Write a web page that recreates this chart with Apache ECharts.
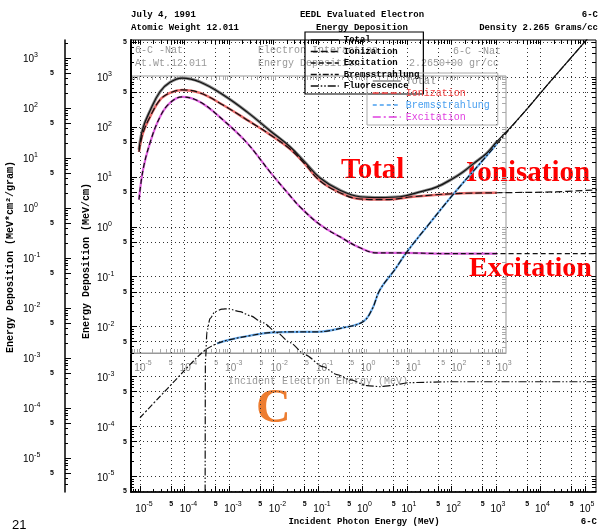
<!DOCTYPE html>
<html><head><meta charset="utf-8">
<script src="https://cdn.jsdelivr.net/npm/echarts@6/dist/echarts.min.js"></script>
<style>html,body{margin:0;padding:0;background:#fff}#c{width:605px;height:531px}</style>
</head><body><div id="c"></div>
<script>
// ---- tick label decades ----
const photonDecades = [-5,-4,-3,-2,-1,0,1,2,3,4,5];
const electronDecades = [-5,-4,-3,-2,-1,0,1,2,3];
const depDecadesCm = [3,2,1,0,-1,-2,-3,-4,-5];
const depDecadesGram = [3,2,1,0,-1,-2,-3,-4,-5];
const blackLegend = ['Total','Ionization','Excitation','Bremsstrahlung','Fluorescence'];
const colourLegend = ['Total','Ionization','Bremsstrahlung','Excitation'];

// ---- curves (energy MeV, deposition) ----
const totalE = [9.5e-6,1.17e-5,1.68e-5,2.81e-5,4.72e-5,8.8e-5,2.23e-4,7.33e-4,2.54e-3,8.34e-3,2.35e-2,5.11e-2,0.111,0.312,0.879,2.47,6.97,19.6,47.2,108,181,337,628,1052,2065,5807,1.63e4,4.6e4,1.29e5,2.17e5];
const totalD = [35,95,210,505,780,950,795,440,200,84,40,19.5,9.5,5.4,4.0,3.85,4.0,5.0,6.3,9.3,12.5,19.4,30,51,96,268,800,2300,6600,11000];
const ionE = [9.5e-6,1.17e-5,1.68e-5,2.81e-5,4.72e-5,8.8e-5,2.23e-4,7.33e-4,2.54e-3,8.34e-3,2.35e-2,5.11e-2,0.111,0.312,0.879,3.56,13.6,108,1052,1.91e4,1.86e5];
const ionD = [31.6,76,158,347,479,550,479,275,138,70,36,18,8.3,4.8,3.6,3.5,4.0,4.6,4.8,5.0,5.5];
const excE = [9.5e-6,1.17e-5,1.68e-5,2.81e-5,4.72e-5,8.8e-5,2.23e-4,7.33e-4,2.54e-3,8.34e-3,2.35e-2,3.95e-2,0.111,0.312,0.879,2.12,8.13,92.5,1052,1.86e5];
const excD = [3.5,13.8,47.9,158,302,398,316,138,47.9,12.6,4.2,2.5,1.1,0.63,0.38,0.30,0.30,0.29,0.29,0.29];
const bremE = [1e-5,2.81e-5,6.1e-5,1.33e-4,2.81e-4,5.37e-4,1.05e-3,2.96e-3,8.34e-3,3.95e-2,9.5e-2,0.365,1.03,1.63,2.47,5.37,10,32.9,108,374,1052,3463,1.63e4,4.6e4,1.29e5,2.17e5];
const bremD = [1.5e-4,4.0e-4,8.3e-4,1.74e-3,3.3e-3,4.6e-3,5.5e-3,6.6e-3,7.6e-3,7.9e-3,7.9e-3,9.5e-3,1.26e-2,2.2e-2,5.5e-2,0.14,0.316,1.2,4.4,15.8,45.7,158,794,2290,6600,11000];
const fluorE = [2.9e-4,2.95e-4,3.2e-4,3.74e-4,4.84e-4,6.96e-4,9.5e-4,1.77e-3,2.96e-3,5.81e-3,1.2e-2,2.35e-2,5.11e-2,0.129,0.267,0.524,1.26,2.47,4.15,11.7,92.5,5807,1.86e5];
const fluorD = [1.0e-6,0.002,0.008,0.0145,0.020,0.0224,0.0229,0.020,0.0166,0.012,0.0076,0.0048,0.00275,0.00158,0.0011,8.7e-4,6.6e-4,6.3e-4,6.6e-4,7.6e-4,7.9e-4,7.9e-4,7.9e-4];

// ---- layout ----
const X_RANGE = [-5.202, 5.247];
const XI_RANGE = [-5.176, 3.084];
const YA_RANGE = [-5.31, 3.74];
const YB_RANGE = [-5.68, 3.36];
const YI_RANGE = [-2.52, 3.02];
const LOG5 = Math.log10(5);

function inR(v, r){ return v >= r[0]-1e-9 && v <= r[1]+1e-9; }
function majors(decs, r){
  const lo = Math.min(...decs)-1, hi = Math.max(...decs);
  const out = [];
  for (let n = lo; n <= hi; n++){ if (decs.includes(n)) out.push(n); out.push(n+LOG5); }
  return out.filter(v => inR(v, r));
}
function minors(r){
  const out = [];
  for (let n = -8; n <= 6; n++) for (const k of [2,3,4,6,7,8,9]) out.push(n+Math.log10(k));
  return out.filter(v => inR(v, r));
}
function isDec(v){ return Math.abs(v-Math.round(v)) < 1e-6; }
const rich = {
  b:{fontSize:10,fontFamily:'Liberation Sans',color:'#000',verticalAlign:'bottom'},
  e:{fontSize:7,fontFamily:'Liberation Sans',color:'#000',verticalAlign:'bottom',padding:[0,0,6,0]},
  gb:{fontSize:10,fontFamily:'Liberation Sans',color:'#888',verticalAlign:'bottom'},
  ge:{fontSize:7,fontFamily:'Liberation Sans',color:'#888',verticalAlign:'bottom',padding:[0,0,6,0]},
  f:{fontSize:7,fontWeight:'bold',fontFamily:'Liberation Sans',color:'#000'},
  gf:{fontSize:7,fontFamily:'Liberation Sans',color:'#888'},
  s4:{width:4}, s8:{width:8}, s26:{width:26}, s27:{width:27}
};
function xFmt(gray){ return v => { const n = Math.round(v);
  if (isDec(v)) return `{${n<0?'s8':'s4'}| }{${gray?'gb':'b'}|10}{${gray?'ge':'e'}|${n}}`;
  return `{${gray?'gf':'f'}|5}`; }; }
function yFmt(pad){ return v => { const n = Math.round(v);
  if (isDec(v)) return `{b|10}{e|${n}}`;
  return `{s${pad}| }{f|5}`; }; }

const pts = (E, D) => E.map((e,i) => [Math.log10(e), Math.log10(D[i])]);
const sub = (E, D, lo, hi) => pts(E, D).filter(p => p[0] >= Math.log10(lo) && p[0] <= Math.log10(hi));

const dotted = {show:true, lineStyle:{color:'#333', width:1, type:[1,3]}};
const noAx = {axisLine:{show:false, onZero:false}, axisLabel:{show:false}, splitLine:{show:false}};

const chart = echarts.init(document.getElementById('c'), null, {renderer:'canvas'});
const lineSeries = (name, data, color, width, type, z, mono) => Object.assign({
  type:'line', name, data, xAxisIndex:0, yAxisIndex:0, symbol:'none', showSymbol:false, smooth:0.4,
  lineStyle:{color, width, type}, itemStyle:{color}, z, clip:true, silent:true
}, mono ? {smoothMonotone:'x', smooth:0.25} : {});

const gText = (text, x, y, font, fill, align, extra) => Object.assign({type:'text', x, y,
  style:{text, font, fill, textAlign:align||'left', textVerticalAlign:'middle'}}, extra||{});

const colourLegendColors = ['#888','#f04040','#4aa0f0','#e040e0'];
const colourLegendDash = ['solid',[6,3],[4,3],[8,3,2,3]];

chart.setOption({
  animation:false,
  backgroundColor:'#fff',
  grid:[
    {left:131, top:40, width:465, height:452, show:true, borderColor:'#000', borderWidth:1, backgroundColor:'transparent'},
    {left:131, top:76, width:375, height:277, show:true, borderColor:'#999', borderWidth:1, backgroundColor:'transparent'}
  ],
  xAxis:[
    {gridIndex:0, type:'value', position:'bottom', min:X_RANGE[0], max:X_RANGE[1],
     axisLine:{show:true, onZero:false, lineStyle:{color:'#000', width:1.5}},
     axisTick:{show:true, inside:true, length:6, customValues:majors(photonDecades, X_RANGE), lineStyle:{color:'#000'}},
     axisLabel:{show:true, customValues:majors(photonDecades, X_RANGE), formatter:xFmt(false), rich, margin:9},
     splitLine:dotted},
    Object.assign({gridIndex:0, type:'value', position:'bottom', min:X_RANGE[0], max:X_RANGE[1],
     axisTick:{show:true, inside:true, length:3, customValues:minors(X_RANGE), lineStyle:{color:'#000'}}}, noAx),
    Object.assign({gridIndex:0, type:'value', position:'top', min:X_RANGE[0], max:X_RANGE[1],
     axisTick:{show:true, inside:true, length:4, customValues:majors(photonDecades, X_RANGE).concat(minors(X_RANGE)), lineStyle:{color:'#000'}}}, noAx),
    {gridIndex:1, type:'value', position:'bottom', min:XI_RANGE[0], max:XI_RANGE[1],
     axisLine:{show:true, onZero:false, lineStyle:{color:'#999', width:1}},
     axisTick:{show:true, inside:true, length:4, customValues:majors(electronDecades, XI_RANGE).concat(minors(XI_RANGE)), lineStyle:{color:'#aaa'}},
     axisLabel:{show:true, customValues:majors(electronDecades, XI_RANGE), formatter:xFmt(true), rich, margin:7},
     splitLine:{show:false}},
    Object.assign({gridIndex:1, type:'value', position:'top', min:XI_RANGE[0], max:XI_RANGE[1],
     axisTick:{show:true, inside:true, length:4, customValues:majors(electronDecades, XI_RANGE).concat(minors(XI_RANGE)), lineStyle:{color:'#aaa'}}}, noAx)
  ],
  yAxis:[
    {gridIndex:0, type:'value', position:'left', min:YA_RANGE[0], max:YA_RANGE[1],
     axisLine:{show:true, onZero:false, lineStyle:{color:'#000', width:2}},
     axisTick:{show:true, inside:true, length:6, customValues:majors(depDecadesCm, YA_RANGE), lineStyle:{color:'#000'}},
     axisLabel:{show:true, align:'left', margin:34, customValues:majors(depDecadesCm, YA_RANGE), formatter:yFmt(26), rich},
     splitLine:dotted},
    Object.assign({gridIndex:0, type:'value', position:'left', min:YA_RANGE[0], max:YA_RANGE[1],
     axisTick:{show:true, inside:true, length:3, customValues:minors(YA_RANGE), lineStyle:{color:'#000'}}}, noAx),
    {gridIndex:0, type:'value', position:'left', offset:66, min:YB_RANGE[0], max:YB_RANGE[1],
     axisLine:{show:true, onZero:false, lineStyle:{color:'#000', width:1.5}},
     axisTick:{show:true, inside:true, length:6, customValues:majors(depDecadesGram, YB_RANGE), lineStyle:{color:'#000'}},
     axisLabel:{show:true, align:'left', margin:42, customValues:majors(depDecadesGram, YB_RANGE), formatter:yFmt(27), rich},
     splitLine:{show:false}},
    Object.assign({gridIndex:0, type:'value', position:'left', offset:66, min:YB_RANGE[0], max:YB_RANGE[1],
     axisTick:{show:true, inside:true, length:3, customValues:minors(YB_RANGE), lineStyle:{color:'#000'}}}, noAx),
    Object.assign({gridIndex:0, type:'value', position:'right', min:YA_RANGE[0], max:YA_RANGE[1],
     axisTick:{show:true, inside:true, length:4, customValues:majors(depDecadesCm, YA_RANGE).concat(minors(YA_RANGE)), lineStyle:{color:'#000'}}}, noAx),
    Object.assign({gridIndex:1, type:'value', position:'right', min:YI_RANGE[0], max:YI_RANGE[1],
     axisTick:{show:true, inside:true, length:4, customValues:majors(depDecadesCm, YI_RANGE).concat(minors(YI_RANGE)), lineStyle:{color:'#aaa'}}}, noAx)
  ],
  legend:[
    {data:blackLegend, orient:'vertical', left:305, top:32, itemWidth:28, itemHeight:8, itemGap:1.5,
     padding:[3,4,3,5], borderColor:'#000', borderWidth:1.2, selectedMode:false,
     itemStyle:{opacity:0}, lineStyle:{width:1.5},
     textStyle:{fontFamily:'Liberation Mono', fontWeight:'bold', fontSize:9, color:'#000', lineHeight:10}},
    {data:colourLegend.map((n,i) => ({name:n+' ', textStyle:{color:colourLegendColors[i]},
       lineStyle:{type:colourLegendDash[i], width:1.5, color:colourLegendColors[i]}})),
     formatter:n => n.trim(), orient:'vertical', left:367, top:73, itemWidth:28, itemHeight:9, itemGap:2,
     padding:[3,8,3,5], borderColor:'#aaa', borderWidth:1, selectedMode:false,
     itemStyle:{opacity:0},
     textStyle:{fontFamily:'Liberation Mono', fontSize:10, lineHeight:10}}
  ],
  series:[
    lineSeries('Total ', sub(totalE,totalD,1e-6,1100), '#8a8a8a', 3, 'solid', 2),
    lineSeries('Ionization ', sub(ionE,ionD,1e-6,1100), '#e86a6a', 2.5, 'solid', 2),
    lineSeries('Bremsstrahlung ', sub(bremE,bremD,5e-4,1100), '#6aaef0', 2.2, 'solid', 2),
    lineSeries('Excitation ', sub(excE,excD,1e-6,1100), '#e060e0', 2.2, 'solid', 2),
    lineSeries('Total', pts(totalE,totalD), '#111', 1.2, 'solid', 4),
    lineSeries('Ionization', pts(ionE,ionD), '#111', 1.2, [7,3], 4),
    lineSeries('Excitation', pts(excE,excD), '#111', 1.2, [5,3], 4),
    lineSeries('Bremsstrahlung', pts(bremE,bremD), '#111', 1.2, [6,2,2,2], 4),
    lineSeries('Fluorescence', pts(fluorE,fluorD), '#111', 1.2, [8,2,1.5,2,1.5,2], 4, true)
  ],
  graphic:[
    gText('July 4, 1991', 131, 15, 'bold 9px "Liberation Mono"', '#000'),
    gText('Atomic Weight 12.011', 131, 28, 'bold 9px "Liberation Mono"', '#000'),
    gText('EEDL Evaluated Electron', 362, 15, 'bold 9px "Liberation Mono"', '#000', 'center'),
    gText('Energy Deposition', 362, 28, 'bold 9px "Liberation Mono"', '#000', 'center'),
    gText('6-C', 598, 15, 'bold 9px "Liberation Mono"', '#000', 'right'),
    gText('Density 2.265 Grams/cc', 598, 28, 'bold 9px "Liberation Mono"', '#000', 'right'),
    gText('6-C -Nat', 135, 50, '10px "Liberation Mono"', '#999'),
    gText('At.Wt.12.011', 135, 63, '10px "Liberation Mono"', '#999'),
    gText('Electron Interaction', 258, 50, '10px "Liberation Mono"', '#999'),
    gText('Energy Deposition', 258, 63, '10px "Liberation Mono"', '#999'),
    gText('6-C -Nat', 453, 51, '10px "Liberation Mono"', '#999'),
    gText('2.2650+00 gr/cc', 409, 63, '10px "Liberation Mono"', '#999'),
    gText('Incident Electron Energy (MeV)', 318, 381, '10px "Liberation Mono"', '#999', 'center'),
    gText('Incident Photon Energy (MeV)', 364, 522, 'bold 9px "Liberation Mono"', '#000', 'center'),
    gText('6-C', 597, 522, 'bold 9px "Liberation Mono"', '#000', 'right'),
    gText('Energy Deposition (MeV*cm²/gram)', 10, 257, 'bold 10px "Liberation Mono"', '#000', 'center', {rotation:Math.PI/2}),
    gText('Energy Deposition (MeV/cm)', 86, 261, 'bold 10px "Liberation Mono"', '#000', 'center', {rotation:Math.PI/2}),
    gText('Total', 341, 171, 'bold 29px "Liberation Serif"', '#ff0000'),
    gText('Ionisation', 466, 174, 'bold 29px "Liberation Serif"', '#ff0000'),
    gText('Excitation', 469, 269, 'bold 28px "Liberation Serif"', '#ff0000'),
    gText('C', 256, 410, 'bold 48px "Liberation Serif"', '#ed7d31'),
    gText('21', 12, 525, '13px "Liberation Sans"', '#000')
  ]
});
</script></body></html>
